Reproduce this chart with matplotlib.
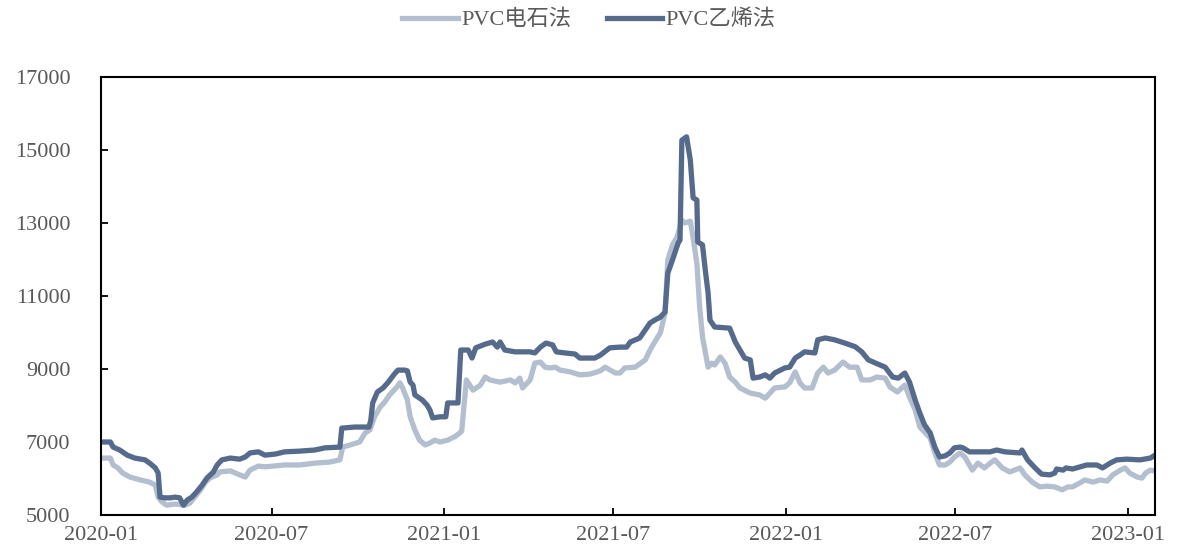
import matplotlib
matplotlib.use("Agg")
import matplotlib.pyplot as plt
import matplotlib.dates as mdates
import pandas as pd

# ---- data ----
dark_dates = [
    "2020-01-01", "2020-01-11", "2020-01-14", "2020-01-21", "2020-01-29", "2020-02-06", "2020-02-17",
    "2020-02-22", "2020-02-28", "2020-03-02", "2020-03-04", "2020-03-09", "2020-03-15", "2020-03-20",
    "2020-03-25", "2020-03-29", "2020-04-02", "2020-04-07", "2020-04-12", "2020-04-18", "2020-04-23",
    "2020-04-30", "2020-05-04", "2020-05-09", "2020-05-18", "2020-05-28", "2020-06-03", "2020-06-08",
    "2020-06-17", "2020-06-24", "2020-07-05", "2020-07-15", "2020-07-31", "2020-08-16", "2020-08-27",
    "2020-09-12", "2020-09-14", "2020-09-28", "2020-10-13", "2020-10-15", "2020-10-17", "2020-10-22",
    "2020-10-28", "2020-11-02", "2020-11-10", "2020-11-13", "2020-11-20", "2020-11-23", "2020-11-26",
    "2020-11-29", "2020-12-01", "2020-12-09", "2020-12-14", "2020-12-17", "2020-12-20", "2020-12-28",
    "2021-01-03", "2021-01-05", "2021-01-16", "2021-01-19", "2021-01-27", "2021-01-31", "2021-02-04",
    "2021-02-14", "2021-02-22", "2021-02-27", "2021-03-02", "2021-03-07", "2021-03-18", "2021-04-03",
    "2021-04-08", "2021-04-14", "2021-04-20", "2021-04-27", "2021-05-01", "2021-05-10", "2021-05-21",
    "2021-05-26", "2021-06-11", "2021-06-17", "2021-06-27", "2021-07-08", "2021-07-15", "2021-07-19",
    "2021-07-29", "2021-08-09", "2021-08-14", "2021-08-20", "2021-08-25", "2021-08-28", "2021-09-02",
    "2021-09-08", "2021-09-10", "2021-09-12", "2021-09-17", "2021-09-21", "2021-09-24", "2021-09-28",
    "2021-09-29", "2021-10-04", "2021-10-07", "2021-10-10", "2021-10-12", "2021-10-17", "2021-11-02",
    "2021-11-08", "2021-11-13", "2021-11-18", "2021-11-24", "2021-11-27", "2021-12-04", "2021-12-10",
    "2021-12-15", "2021-12-20", "2021-12-31", "2022-01-05", "2022-01-11", "2022-01-16", "2022-01-21",
    "2022-02-01", "2022-02-04", "2022-02-12", "2022-02-22", "2022-03-05", "2022-03-16", "2022-03-23",
    "2022-03-30", "2022-04-06", "2022-04-17", "2022-04-25", "2022-05-01", "2022-05-08", "2022-05-13",
    "2022-05-19", "2022-05-24", "2022-05-29", "2022-06-04", "2022-06-09", "2022-06-14", "2022-06-20",
    "2022-06-25", "2022-06-30", "2022-07-06", "2022-07-09", "2022-07-16", "2022-08-07", "2022-08-14",
    "2022-08-23", "2022-09-08", "2022-09-10", "2022-09-16", "2022-09-24", "2022-10-01", "2022-10-10",
    "2022-10-15", "2022-10-17", "2022-10-24", "2022-10-27", "2022-11-03", "2022-11-11", "2022-11-18",
    "2022-11-29", "2022-12-05", "2022-12-13", "2022-12-20", "2022-12-31", "2023-01-14", "2023-01-25",
    "2023-01-30",
]
dark_values = [
    7000, 7000, 6860, 6780, 6640, 6560, 6510,
    6420, 6290, 6150, 5490, 5470, 5470, 5490,
    5470, 5270, 5410, 5490, 5630, 5820, 6010,
    6180, 6370, 6510, 6560, 6530, 6590, 6700,
    6730, 6640, 6670, 6730, 6750, 6780, 6840,
    6860, 7380, 7410, 7410, 7600, 8070, 8370,
    8480, 8620, 8890, 8970, 8970, 8950, 8640,
    8560, 8290, 8150, 8010, 7880, 7660, 7690,
    7690, 8070, 8070, 9520, 9520, 9300, 9580,
    9680, 9740, 9600, 9740, 9520, 9470, 9470,
    9440, 9600, 9710, 9660, 9470, 9440, 9410,
    9300, 9300, 9380, 9580, 9600, 9600, 9740,
    9850, 10260, 10340, 10420, 10560, 11630, 11990,
    12450, 12530, 15270, 15360, 14730, 13690, 13630,
    12480, 12400, 11710, 11080, 10340, 10150, 10120,
    9740, 9520, 9300, 9250, 8750, 8780, 8840,
    8750, 8890, 9030, 9050, 9300, 9380, 9470,
    9440, 9800, 9850, 9800, 9710, 9610, 9470,
    9250, 9170, 9050, 8780, 8750, 8890, 8640,
    8150, 7790, 7470, 7250, 6860, 6590, 6620,
    6700, 6840, 6860, 6840, 6730, 6730, 6780,
    6730, 6700, 6780, 6510, 6290, 6120, 6100,
    6150, 6260, 6230, 6290, 6260, 6320, 6370,
    6370, 6290, 6420, 6510, 6530, 6510, 6560,
    6640,
]

light_dates = [
    "2020-01-01", "2020-01-11", "2020-01-14", "2020-01-19", "2020-01-24", "2020-02-01", "2020-02-12",
    "2020-02-22", "2020-02-28", "2020-03-02", "2020-03-06", "2020-03-11", "2020-03-20", "2020-03-31",
    "2020-04-05", "2020-04-10", "2020-04-16", "2020-04-21", "2020-04-26", "2020-05-04", "2020-05-07",
    "2020-05-18", "2020-05-28", "2020-06-03", "2020-06-08", "2020-06-17", "2020-06-24", "2020-07-15",
    "2020-07-31", "2020-08-16", "2020-09-01", "2020-09-12", "2020-09-15", "2020-09-23", "2020-10-03",
    "2020-10-09", "2020-10-14", "2020-10-19", "2020-10-25", "2020-10-30", "2020-11-04", "2020-11-12",
    "2020-11-15", "2020-11-18", "2020-11-23", "2020-11-26", "2020-12-01", "2020-12-06", "2020-12-12",
    "2020-12-17", "2020-12-22", "2020-12-28", "2021-01-05", "2021-01-13", "2021-01-18", "2021-01-20",
    "2021-01-25", "2021-02-01", "2021-02-09", "2021-02-14", "2021-02-19", "2021-03-02", "2021-03-13",
    "2021-03-18", "2021-03-23", "2021-03-26", "2021-04-03", "2021-04-08", "2021-04-14", "2021-04-19",
    "2021-04-24", "2021-04-30", "2021-05-05", "2021-05-16", "2021-05-26", "2021-06-06", "2021-06-17",
    "2021-06-22", "2021-07-03", "2021-07-08", "2021-07-13", "2021-07-24", "2021-08-04", "2021-08-09",
    "2021-08-14", "2021-08-20", "2021-08-25", "2021-08-28", "2021-09-02", "2021-09-07", "2021-09-12",
    "2021-09-15", "2021-09-21", "2021-09-24", "2021-09-28", "2021-10-01", "2021-10-04", "2021-10-10",
    "2021-10-14", "2021-10-17", "2021-10-23", "2021-10-28", "2021-11-02", "2021-11-08", "2021-11-13",
    "2021-11-24", "2021-12-04", "2021-12-10", "2021-12-15", "2021-12-20", "2021-12-31", "2022-01-05",
    "2022-01-11", "2022-01-16", "2022-01-21", "2022-01-29", "2022-02-04", "2022-02-10", "2022-02-15",
    "2022-02-22", "2022-03-03", "2022-03-10", "2022-03-18", "2022-03-23", "2022-04-01", "2022-04-08",
    "2022-04-17", "2022-04-22", "2022-04-30", "2022-05-08", "2022-05-13", "2022-05-19", "2022-05-24",
    "2022-06-04", "2022-06-09", "2022-06-14", "2022-06-20", "2022-06-25", "2022-06-30", "2022-07-06",
    "2022-07-11", "2022-07-19", "2022-07-25", "2022-08-01", "2022-08-07", "2022-08-12", "2022-08-20",
    "2022-08-28", "2022-09-08", "2022-09-13", "2022-09-21", "2022-09-29", "2022-10-07", "2022-10-15",
    "2022-10-23", "2022-10-29", "2022-11-03", "2022-11-11", "2022-11-16", "2022-11-25", "2022-12-02",
    "2022-12-10", "2022-12-16", "2022-12-24", "2022-12-29", "2023-01-03", "2023-01-11", "2023-01-16",
    "2023-01-20", "2023-01-25", "2023-01-30",
]
light_values = [
    6560, 6560, 6370, 6290, 6150, 6040, 5960,
    5900, 5820, 5490, 5360, 5270, 5300, 5270,
    5330, 5490, 5680, 5880, 6010, 6100, 6180,
    6210, 6100, 6040, 6230, 6340, 6320, 6370,
    6370, 6420, 6450, 6510, 6860, 6920, 7000,
    7250, 7330, 7690, 7960, 8100, 8290, 8510,
    8620, 8480, 8150, 7690, 7330, 7050, 6920,
    6970, 7050, 7000, 7050, 7150, 7250, 7300,
    8700, 8420, 8560, 8780, 8700, 8640, 8700,
    8620, 8750, 8480, 8700, 9160, 9190, 9050,
    9030, 9050, 8970, 8920, 8840, 8860, 8950,
    9050, 8890, 8890, 9030, 9050, 9250, 9520,
    9740, 9990, 10530, 11990, 12400, 12620, 13080,
    13000, 13050, 12600, 11900, 10700, 9880, 9050,
    9160, 9110, 9330, 9160, 8780, 8640, 8480,
    8340, 8290, 8200, 8340, 8480, 8510, 8620,
    8920, 8620, 8480, 8480, 8890, 9050, 8890,
    8970, 9190, 9050, 9050, 8700, 8700, 8780,
    8750, 8510, 8370, 8560, 8230, 7880, 7410,
    7110, 6700, 6370, 6370, 6450, 6590, 6700,
    6590, 6230, 6420, 6290, 6420, 6510, 6290,
    6180, 6290, 6100, 5900, 5770, 5790, 5770,
    5690, 5770, 5770, 5880, 5960, 5900, 5960,
    5930, 6100, 6230, 6290, 6150, 6040, 6010,
    6150, 6230, 6200,
]

series_names = ["PVC电石法", "PVC乙烯法"]
xtick_dates = ["2020-01-01", "2020-07-01", "2021-01-01", "2021-07-01",
               "2022-01-01", "2022-07-01", "2023-01-01"]
yticks = [5000, 7000, 9000, 11000, 13000, 15000, 17000]

# ---- styling ----
LIGHT = "#b3bfcf"
DARK = "#566a8b"
TEXT = "#595959"
SERIF = ["Liberation Serif", "Noto Sans CJK SC"]

plt.rcParams["font.family"] = SERIF

fig = plt.figure(figsize=(11.78, 5.54), dpi=100)
ax = fig.add_axes([101 / 1178, 1 - 515 / 554, (1155 - 101) / 1178, (515 - 77) / 554])

ax.plot(pd.to_datetime(light_dates), light_values, color=LIGHT, lw=3.8,
        solid_joinstyle="round", label=series_names[0])
ax.plot(pd.to_datetime(dark_dates), dark_values, color=DARK, lw=3.8,
        solid_joinstyle="round", label=series_names[1])

ax.set_ylim(5000, 17000)
ax.set_yticks(yticks)
ax.set_xlim(pd.Timestamp("2020-01-01"), pd.Timestamp("2023-01-30"))
ax.set_xticks(pd.to_datetime(xtick_dates))
ax.xaxis.set_major_formatter(mdates.DateFormatter("%Y-%m"))

for s in ax.spines.values():
    s.set_linewidth(1.5)
    s.set_color("black")

ax.tick_params(axis="y", direction="in", length=5, width=1.3, labelsize=16,
               labelcolor=TEXT, pad=22)
ax.tick_params(axis="x", direction="in", length=5, width=1.3, labelsize=16,
               labelcolor=TEXT, pad=8)

leg = fig.legend(loc="center", bbox_to_anchor=(0.5, 1 - 20 / 554), ncol=2,
                 frameon=False, fontsize=16, handlelength=2.5, handletextpad=0.15,
                 columnspacing=1.6, prop={"family": SERIF, "size": 16})
for t in leg.get_texts():
    t.set_color(TEXT)

fig.savefig("out.png", dpi=100)
